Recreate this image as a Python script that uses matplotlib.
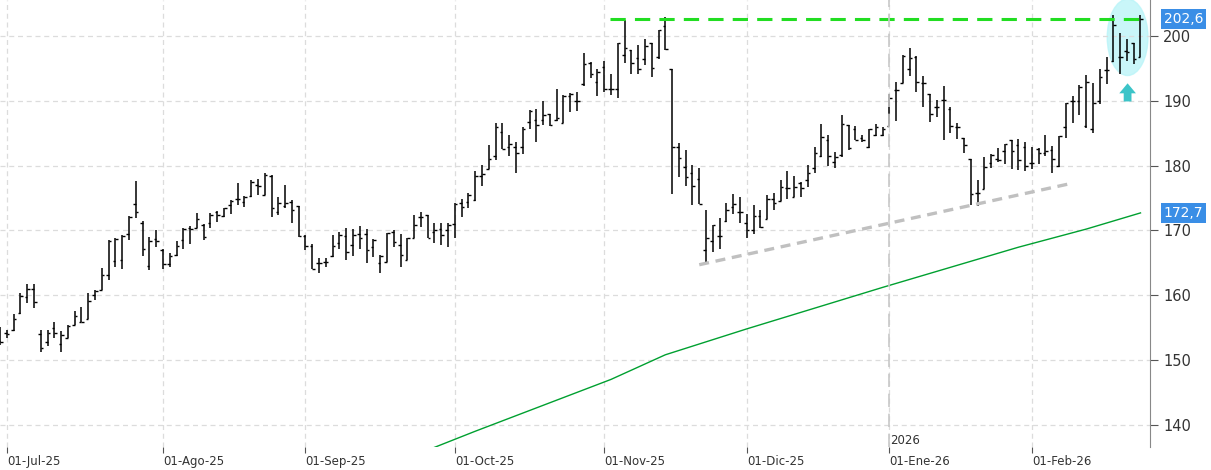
import matplotlib.pyplot as plt
from matplotlib.patches import Ellipse
import numpy as np

# OHLC, one row per trading day (30-Jun-25 .. 24-Feb-26)
opens = [153.0, 154.2, 154.7, 157.3, 159.7, 161.0, 154.0, 152.8, 154.9, 152.5, 153.4, 155.4, 155.9, 156.4, 160.0, 160.8,
         163.1, 165.3, 165.5, 169.4, 174.1, 171.2, 164.5, 168.6, 167.0, 164.8, 166.2, 168.5, 170.3, 170.4, 170.8, 171.2,
         172.9, 172.2, 173.9, 174.9, 174.4, 175.3, 177.0, 175.5, 178.4, 172.9, 173.7, 174.4, 173.7, 169.1, 167.6,
         164.9, 165.1, 166.0, 168.0, 169.1, 167.8, 169.5, 169.5, 167.4, 164.9, 165.2, 169.8, 167.7, 165.5, 168.9, 172.0,
         172.4, 169.8, 170.2, 170.0, 171.0, 174.3, 174.4, 174.7, 178.4, 179.4, 181.5, 185.2, 182.8, 182.9, 182.8, 186.8,
         187.1, 187.1, 188.0, 187.0, 186.5, 190.7, 190.0, 192.6, 195.8, 192.9, 195.2, 191.8, 191.8,
         197.1, 197.9, 196.6, 196.4, 198.9, 196.8, 201.5, 194.9, 182.8, 179.8, 178.9, 178.0, 166.9, 168.4, 169.1, 171.5,
         173.6, 172.9, 171.1, 170.0, 172.2, 171.7, 174.8, 174.6, 176.6, 175.2, 177.3, 177.8, 179.6, 181.5, 184.0, 180.6,
         181.6, 186.3, 185.6, 184.2, 182.8, 184.7, 184.7, 186.1, 191.6, 192.8, 194.9, 196.8,
         192.7, 191.0, 189.1, 190.1, 188.8, 186.0, 184.2, 181.0, 175.8, 176.4, 180.4, 181.0, 182.2, 183.9, 183.2, 182.9,
         180.4, 182.5, 182.0, 182.4, 179.9, 185.9, 189.9, 189.9, 186.1, 185.6, 190.0, 194.7, 196.2, 196.8, 197.7, 199.0,
         196.8]
highs = [155.1, 154.6, 157.1, 160.3, 161.8, 161.8, 154.7, 154.6, 155.8, 154.5, 155.4, 157.6, 158.2, 160.3, 160.8, 164.2,
         168.5, 168.8, 169.3, 172.2, 177.7, 171.4, 169.0, 170.1, 167.2, 166.5, 168.3, 170.3, 170.7, 172.7, 171.0, 172.7,
         173.0, 173.5, 174.7, 177.3, 175.3, 177.8, 178.0, 178.9, 178.5, 175.1, 177.0, 174.7, 173.8, 169.3, 167.9,
         165.7, 165.8, 169.3, 169.8, 170.3, 170.2, 170.7, 170.2, 168.6, 166.2, 169.6, 170.0, 169.5, 168.9, 172.4, 172.9,
         172.4, 171.1, 171.1, 171.1, 174.2, 174.8, 175.8, 179.2, 180.1, 183.2, 186.5, 186.5, 184.7, 183.7, 185.9, 188.6,
         188.7, 189.9, 188.0, 191.9, 190.9, 191.2, 191.3, 197.4, 196.0, 194.9, 196.2, 194.2, 199.0,
         202.4, 197.9, 198.6, 199.6, 199.0, 201.0, 203.0, 194.9, 183.5, 182.4, 180.1, 179.6, 173.1, 170.8, 171.9, 174.3,
         175.6, 175.1, 172.6, 173.9, 173.2, 175.4, 175.7, 177.8, 179.2, 178.4, 177.4, 180.1, 182.9, 186.4, 184.7, 182.1,
         187.8, 186.3, 186.1, 184.7, 185.7, 186.4, 185.9, 191.0, 192.9, 197.1, 198.1, 196.9,
         193.8, 191.0, 190.1, 192.3, 189.0, 186.5, 184.2, 181.0, 177.8, 181.4, 181.8, 182.7, 183.4, 183.9, 184.1, 183.6,
         182.8, 182.7, 184.7, 183.0, 184.6, 189.6, 190.7, 192.4, 194.0, 192.7, 194.9, 196.7, 203.2, 200.5, 199.6, 199.0,
         203.2]
lows = [152.3, 153.4, 154.4, 157.1, 158.8, 158.0, 151.3, 152.2, 153.4, 151.3, 153.4, 155.4, 155.8, 156.4, 159.3, 160.8,
        162.3, 164.3, 164.1, 168.5, 171.9, 166.1, 163.9, 167.4, 164.0, 164.3, 166.0, 167.1, 167.9, 170.3, 168.5, 170.3,
        171.3, 172.0, 172.5, 173.9, 173.6, 175.2, 175.5, 175.5, 172.0, 172.4, 173.4, 171.1, 169.0, 166.9, 164.0,
        163.5, 164.3, 165.9, 167.2, 165.5, 166.0, 167.2, 165.0, 165.9, 163.5, 165.2, 167.4, 164.4, 165.5, 168.9, 170.6,
        168.9, 168.1, 167.7, 167.4, 168.9, 172.0, 173.4, 174.6, 176.8, 179.4, 180.9, 182.5, 181.5, 178.9, 181.8, 185.7,
        183.7, 186.3, 186.1, 186.9, 186.5, 188.2, 188.5, 192.3, 193.5, 190.7, 191.4, 190.9, 190.4,
        195.8, 194.2, 194.2, 195.5, 193.6, 196.4, 197.9, 175.6, 178.3, 176.8, 173.9, 174.1, 165.0, 166.6, 167.1, 171.3,
        172.5, 171.2, 168.9, 169.4, 170.3, 171.7, 173.2, 174.6, 174.9, 175.2, 175.1, 176.7, 178.9, 181.4, 179.9, 179.7,
        181.4, 182.4, 184.0, 183.7, 182.7, 184.5, 184.6, 186.1, 186.9, 192.7, 193.8, 191.4,
        189.1, 186.8, 187.5, 183.9, 185.1, 184.1, 182.0, 173.9, 173.7, 176.4, 179.6, 180.5, 180.2, 179.4, 179.3, 179.1,
        179.4, 180.2, 181.5, 178.8, 179.8, 184.2, 186.5, 187.8, 185.8, 185.0, 189.5, 192.6, 196.0, 194.2, 196.2, 195.7,
        196.8]
closes = [152.7, 154.0, 156.3, 159.9, 160.9, 159.0, 151.9, 154.1, 154.2, 153.8, 155.3, 156.8, 155.8, 159.1, 160.6, 163.1,
          168.4, 168.7, 169.2, 172.1, 172.8, 167.2, 168.4, 168.3, 164.8, 166.1, 167.6, 170.2, 170.2, 171.7, 169.0, 172.4,
          172.4, 173.4, 174.6, 174.8, 175.2, 177.5, 176.8, 178.5, 173.4, 174.3, 174.3, 173.2, 169.1, 167.6, 164.1,
          164.9, 165.1, 167.6, 169.3, 166.6, 169.3, 168.9, 166.9, 168.5, 166.1, 169.6, 168.2, 166.2, 168.8, 170.8, 172.1,
          168.9, 170.0, 169.3, 170.8, 174.1, 173.6, 175.5, 178.4, 178.7, 181.0, 185.9, 182.5, 183.4, 181.9, 185.7, 188.5,
          186.3, 187.8, 186.3, 187.3, 190.7, 191.0, 190.0, 195.7, 194.1, 194.5, 191.9, 191.8, 199.0,
          198.1, 195.8, 194.9, 198.4, 195.0, 200.9, 198.0, 182.9, 181.1, 178.3, 176.8, 174.1, 168.9, 170.8, 169.1, 173.1,
          174.1, 172.9, 170.0, 172.2, 170.6, 174.9, 174.2, 176.7, 176.5, 176.7, 176.5, 178.8, 181.9, 184.4, 181.5, 181.4,
          186.4, 182.7, 184.0, 183.9, 185.6, 185.9, 185.7, 190.5, 191.6, 196.9, 196.6, 192.9,
          192.7, 188.0, 189.1, 190.1, 186.1, 185.9, 183.2, 175.6, 175.8, 179.8, 181.6, 180.9, 183.3, 182.2, 180.8, 179.9,
          180.4, 182.0, 182.2, 181.0, 184.5, 189.6, 189.9, 192.1, 192.9, 189.6, 193.6, 194.7, 201.7, 196.7, 197.6, 196.4,
          202.6]

# long moving average (green line), sampled every few bars
ma_idx = [63, 70, 80, 90, 98, 110, 120, 130, 140, 150, 160, 168]
ma_val = [136.1, 139.0, 143.0, 147.0, 150.8, 154.8, 158.0, 161.2, 164.3, 167.4, 170.2, 172.7]

month_idx = [1, 24, 45, 67, 89, 110, 131, 152]
month_lbl = ['01-Jul-25', '01-Ago-25', '01-Sep-25', '01-Oct-25', '01-Nov-25', '01-Dic-25', '01-Ene-26', '01-Feb-26']

resist = 202.6
support = [(103, 164.7), (158, 177.3)]
last_ma = 172.7

fig = plt.figure(figsize=(12.11, 4.70), dpi=100)
ax = fig.add_axes([0, 23 / 470, 1150 / 1211, 447 / 470])

x = np.arange(len(closes))
w = 0.38
ax.vlines(x, lows, highs, color='black', lw=1.1)
ax.hlines(opens, x - w, x, color='black', lw=1.0)
ax.hlines(closes, x, x + w, color='black', lw=1.0)

ax.plot(ma_idx, ma_val, color='#00a030', lw=1.0)
ax.hlines(resist, 89.8, 168.3, color='#22dd22', lw=2.2, linestyles=(0, (5, 3)))
ax.plot([p[0] for p in support], [p[1] for p in support], color='#c0c0c0', lw=2.4, ls=(0, (3, 2)))
ax.axvline(131, color='#c8c8c8', lw=1.2, ls=(0, (8, 4)))
ax.text(131.1, 137.6, '2026', fontsize=8.5, color='#333333', ha='left', va='center')

ax.add_patch(Ellipse((166.1, 199.8), 6.0, 11.8, color='#b8f4f8', alpha=0.75, zorder=0))
ax.annotate('', xy=(166.1, 192.7), xytext=(166.1, 189.9),
            arrowprops=dict(arrowstyle='simple,head_width=1.5,head_length=0.9,tail_width=0.7',
                            mutation_scale=8, shrinkA=0, shrinkB=0, color='#3cc4c8', lw=0))

ax.set_xlim(0, 169.4)
ax.set_ylim(136.57, 205.56)
ax.grid(True, color='#dcdcdc', ls=(0, (4, 3)), lw=0.9)
ax.set_xticks(month_idx)
ax.set_xticklabels(month_lbl, ha='left', fontsize=8.5, color='#333333')
ax.tick_params(axis='x', direction='out', length=4, pad=2, color='#555555')
ax.yaxis.tick_right()
ax.set_yticks(np.arange(140, 201, 10))
ax.tick_params(axis='y', direction='out', length=6, labelsize=10.5, labelcolor='#333333', color='#555555')
for s in ['top', 'left', 'bottom']:
    ax.spines[s].set_visible(False)
ax.spines['right'].set_color('#888888')

for v in (resist, last_ma):
    ax.text(1.012, (v - 136.57) / (205.56 - 136.57), f'{v:.1f}'.replace('.', ','),
            transform=ax.transAxes, fontsize=10, color='white', va='center', ha='left',
            bbox=dict(boxstyle='square,pad=0.2', fc='#3a8ee6', ec='none'))

fig.savefig('out.png', dpi=100)
